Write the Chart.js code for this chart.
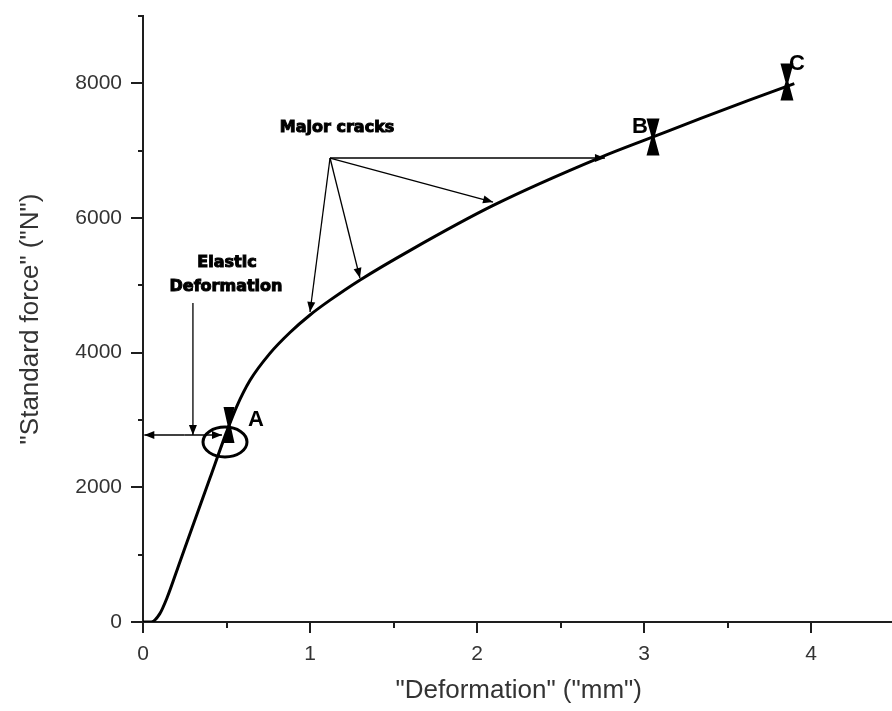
<!DOCTYPE html>
<html lang="en">
<head>
    <meta charset="UTF-8">
    <title>Standard force vs deformation</title>
    <script src="https://cdn.jsdelivr.net/npm/chart.js"></script>
    <style>
        html, body {
            margin: 0;
            padding: 0;
            background: #ffffff;
            width: 892px;
            height: 711px;
            overflow: hidden;
        }
        #chart {
            display: block;
        }
    </style>
</head>
<body>
    <canvas id="chart" width="896" height="711"></canvas>

    <script>
        // Curve (mm, N)
        const deformation = [0, 0.05, 0.1, 0.144, 0.222, 0.3, 0.4, 0.5, 0.561, 0.641, 0.76, 0.88, 1.0, 1.12, 1.3, 1.6, 2.1, 2.74, 3.05, 3.34, 3.63, 3.9];
        const force = [0, 0, 120, 360, 900, 1440, 2130, 2820, 3200, 3590, 3990, 4300, 4560, 4780, 5080, 5520, 6190, 6900, 7200, 7480, 7750, 7995];

        const xTickLabels = ['0', '1', '2', '3', '4'];
        const yTickLabels = ['0', '2000', '4000', '6000', '8000'];

        // Annotation anchors, in data units
        const pointNames = ['A', 'B', 'C'];
        const pointX = [0.515, 3.054, 3.856];
        const pointY = [2926, 7203, 8020];
        const pointLabelX = [0.677, 2.976, 3.916];
        const pointLabelY = [3000, 7351, 8287];

        const crackOrigin = [1.12, 6891];
        const crackTipX = [2.766, 2.096, 1.299, 1.0];
        const crackTipY = [6891, 6237, 5109, 4604];

        const textColor = '#333333';
        const axisColor = '#1e1e1e';

        function arrow(ctx, x1, y1, x2, y2, len, half) {
            const a = Math.atan2(y2 - y1, x2 - x1);
            ctx.beginPath();
            ctx.moveTo(x1, y1);
            ctx.lineTo(x2, y2);
            ctx.stroke();
            ctx.beginPath();
            ctx.moveTo(x2, y2);
            ctx.lineTo(x2 - len * Math.cos(a) + half * Math.sin(a), y2 - len * Math.sin(a) - half * Math.cos(a));
            ctx.lineTo(x2 - len * Math.cos(a) - half * Math.sin(a), y2 - len * Math.sin(a) + half * Math.cos(a));
            ctx.closePath();
            ctx.fill();
        }

        function hourglass(ctx, cx, cy, w, h) {
            ctx.beginPath();
            ctx.moveTo(cx - w / 2, cy - h / 2);
            ctx.lineTo(cx + w / 2, cy - h / 2);
            ctx.lineTo(cx + 1.5, cy);
            ctx.lineTo(cx + w / 2, cy + h / 2);
            ctx.lineTo(cx - w / 2, cy + h / 2);
            ctx.lineTo(cx - 1.5, cy);
            ctx.closePath();
            ctx.fill();
        }

        const tickMarks = {
            id: 'tickMarks',
            afterDraw(chart) {
                const ctx = chart.ctx;
                const xs = chart.scales.x, ys = chart.scales.y;
                const area = chart.chartArea;
                ctx.save();
                ctx.strokeStyle = axisColor;
                ctx.lineWidth = 2;
                xs.ticks.forEach(t => {
                    const px = Math.round(xs.getPixelForValue(t.value));
                    const len = Number.isInteger(t.value) ? 11 : 6;
                    ctx.beginPath();
                    ctx.moveTo(px, area.bottom);
                    ctx.lineTo(px, area.bottom + len);
                    ctx.stroke();
                });
                ys.ticks.forEach(t => {
                    const py = Math.round(ys.getPixelForValue(t.value));
                    const len = t.value % 2000 === 0 ? 12 : 5;
                    ctx.beginPath();
                    ctx.moveTo(area.left, py);
                    ctx.lineTo(area.left - len, py);
                    ctx.stroke();
                });
                ctx.restore();
            }
        };

        const notes = {
            id: 'notes',
            afterDatasetsDraw(chart) {
                const ctx = chart.ctx;
                const X = v => chart.scales.x.getPixelForValue(v);
                const Y = v => chart.scales.y.getPixelForValue(v);
                ctx.save();
                ctx.fillStyle = '#000';
                ctx.strokeStyle = '#000';

                // major cracks
                ctx.lineWidth = 1.3;
                crackTipX.forEach((tx, i) => {
                    arrow(ctx, X(crackOrigin[0]), Y(crackOrigin[1]), X(tx), Y(crackTipY[i]), 10, 4);
                });

                // elastic deformation
                const ay = Y(2777);
                arrow(ctx, X(0.299), Y(4738), X(0.299), ay, 10, 4);
                arrow(ctx, X(0.25), ay, X(0.473), ay, 10, 4);
                arrow(ctx, X(0.25), ay, X(0.008), ay, 10, 4);

                // ellipse round A
                ctx.lineWidth = 3;
                ctx.beginPath();
                ctx.ellipse(X(0.491), Y(2673), 22, 15, 0, 0, Math.PI * 2);
                ctx.stroke();

                // specimen markers
                const sizes = [[11, 36], [13, 37], [13, 37]];
                pointX.forEach((px, i) => {
                    hourglass(ctx, X(px), Y(pointY[i]), sizes[i][0], sizes[i][1]);
                });

                // text
                ctx.textAlign = 'center';
                ctx.textBaseline = 'middle';
                ctx.lineWidth = 1;
                ctx.font = 'bold 16px "DejaVu Sans"';
                const words = [['Major cracks', 1.162, 7336], ['Elastic', 0.503, 5331], ['Deformation', 0.497, 4975]];
                words.forEach(w => {
                    ctx.fillText(w[0], X(w[1]), Y(w[2]));
                    ctx.strokeText(w[0], X(w[1]), Y(w[2]));
                });
                ctx.font = 'bold 22px "Liberation Sans"';
                pointNames.forEach((n, i) => {
                    ctx.fillText(n, X(pointLabelX[i]), Y(pointLabelY[i]));
                });
                ctx.restore();
            }
        };

        new Chart(document.getElementById('chart'), {
            type: 'scatter',
            data: {
                datasets: [{
                    data: deformation.map((d, i) => ({ x: d, y: force[i] })),
                    showLine: true,
                    borderColor: '#000',
                    borderWidth: 3,
                    pointRadius: 0,
                    cubicInterpolationMode: 'monotone'
                }]
            },
            options: {
                responsive: false,
                animation: false,
                layout: { padding: { top: 16, right: 1.5, left: 0, bottom: 0 } },
                plugins: { legend: { display: false }, tooltip: { enabled: false } },
                scales: {
                    x: {
                        type: 'linear',
                        min: 0,
                        max: 4.5,
                        afterFit: s => { s.height = 89; s.paddingLeft = 0; s.paddingRight = 0; },
                        grid: { display: false, drawTicks: false },
                        border: { display: true, color: axisColor, width: 2 },
                        ticks: {
                            stepSize: 0.5,
                            autoSkip: false,
                            maxRotation: 0,
                            padding: 20,
                            color: textColor,
                            font: { family: 'Liberation Sans', size: 21 },
                            callback: v => Number.isInteger(v) ? xTickLabels[v] : ''
                        },
                        title: {
                            display: true,
                            text: '"Deformation" ("mm")',
                            color: textColor,
                            font: { family: 'Liberation Sans', size: 26 },
                            padding: { top: 0, bottom: 5 }
                        }
                    },
                    y: {
                        min: 0,
                        max: 9000,
                        afterFit: s => { s.width = 143; s.paddingTop = 0; s.paddingBottom = 0; },
                        grid: { display: false, drawTicks: false },
                        border: { display: true, color: axisColor, width: 2 },
                        ticks: {
                            stepSize: 1000,
                            autoSkip: false,
                            padding: 21,
                            color: textColor,
                            font: { family: 'Liberation Sans', size: 21 },
                            callback: v => v % 2000 === 0 ? yTickLabels[v / 2000] : ''
                        },
                        title: {
                            display: true,
                            text: '"Standard force" ("N")',
                            color: textColor,
                            font: { family: 'Liberation Sans', size: 26 },
                            padding: { top: 15, bottom: 0 }
                        }
                    }
                }
            },
            plugins: [tickMarks, notes]
        });
    </script>
</body>
</html>
